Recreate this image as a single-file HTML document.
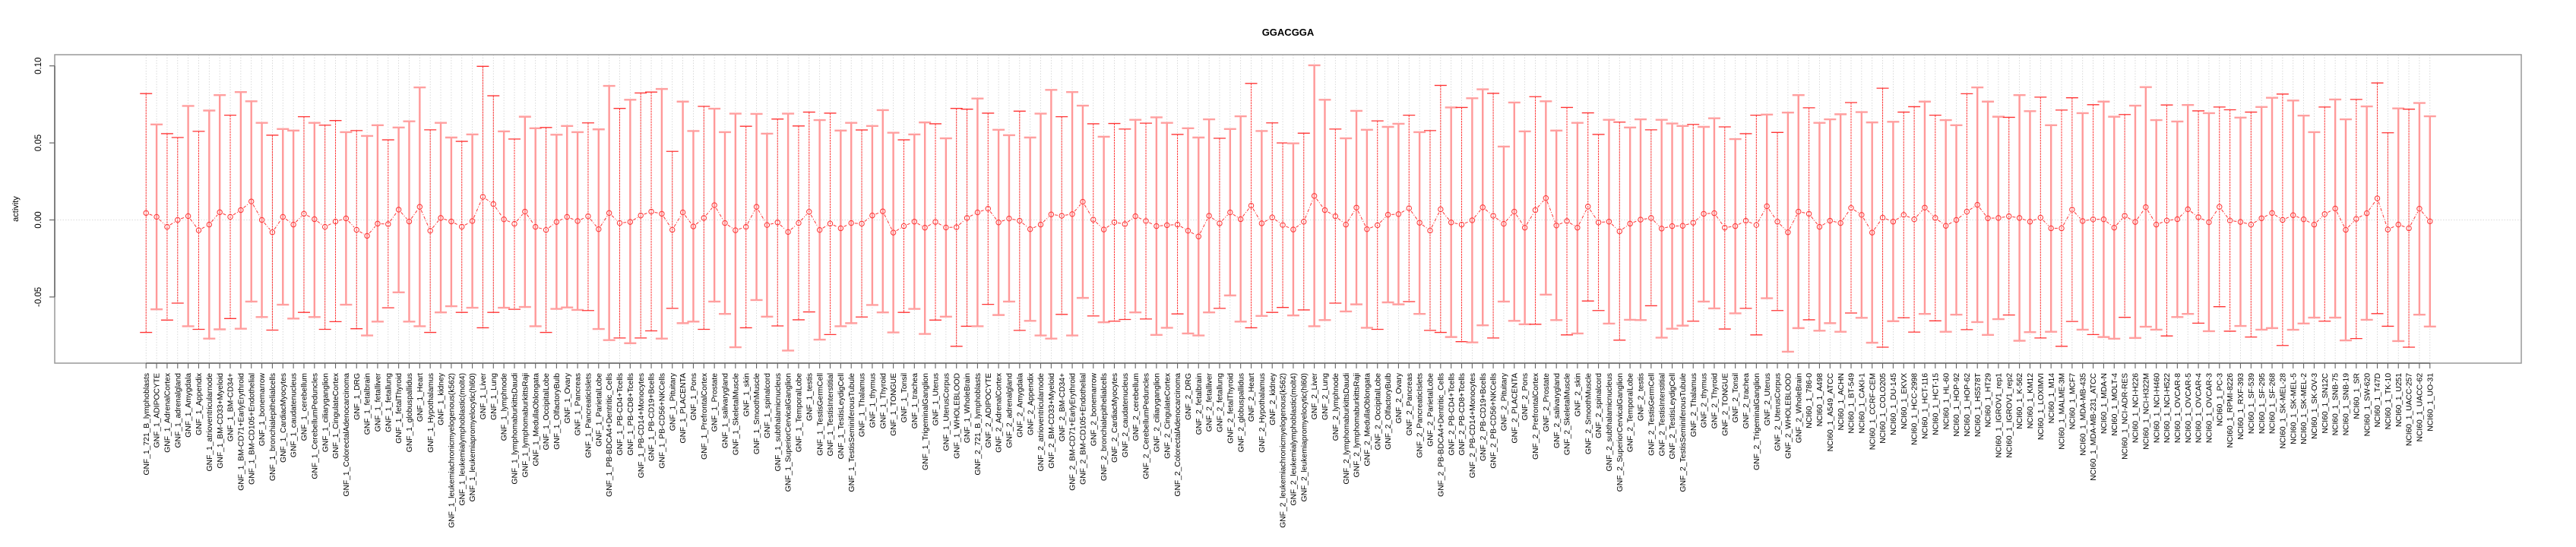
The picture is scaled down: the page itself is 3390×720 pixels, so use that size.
<!DOCTYPE html>
<html><head><meta charset="utf-8"><title>GGACGGA</title>
<style>
html,body{margin:0;padding:0;background:#fff;}
svg{display:block;font-family:"Liberation Sans",Arial,sans-serif;}
</style></head>
<body>
<svg id="chart" width="3390" height="720" viewBox="0 0 3390 720" xmlns="http://www.w3.org/2000/svg">
<text x="1695" y="47" text-anchor="middle" font-size="13" font-weight="bold">GGACGGA</text>
<text transform="translate(24,275) rotate(-90)" text-anchor="middle" font-size="11">activity</text>
<g id="grid"></g>
<g id="bars"></g>
<g id="line"></g>
<g id="axes"></g>
<g id="xlabels"></g>
</svg>
<script>
const tissues = ["721_B_lymphoblasts","ADIPOCYTE","AdrenalCortex","adrenalgland","Amygdala","Appendix","atrioventricularnode","BM-CD33+Myeloid","BM-CD34+","BM-CD71+EarlyErythroid","BM-CD105+Endothelial","bonemarrow","bronchialepithelialcells","CardiacMyocytes","caudatenucleus","cerebellum","CerebellumPeduncles","ciliaryganglion","CingulateCortex","ColorectalAdenocarcinoma","DRG","fetalbrain","fetalliver","fetallung","fetalThyroid","globuspallidus","Heart","Hypothalamus","kidney","leukemiachronicmyelogenous(k562)","leukemialymphoblastic(molt4)","leukemiapromyelocytic(hl60)","Liver","Lung","lymphnode","lymphomaburkittsDaudi","lymphomaburkittsRaji","MedullaOblongata","OccipitalLobe","OlfactoryBulb","Ovary","Pancreas","PancreaticIslets","ParietalLobe","PB-BDCA4+Dentritic_Cells","PB-CD4+Tcells","PB-CD8+Tcells","PB-CD14+Monocytes","PB-CD19+Bcells","PB-CD56+NKCells","Pituitary","PLACENTA","Pons","PrefrontalCortex","Prostate","salivarygland","SkeletalMuscle","skin","SmoothMuscle","spinalcord","subthalamicnucleus","SuperiorCervicalGanglion","TemporalLobe","testis","TestisGermCell","TestisInterstitial","TestisLeydigCell","TestisSeminiferousTubule","Thalamus","thymus","Thyroid","TONGUE","Tonsil","trachea","TrigeminalGanglion","Uterus","UterusCorpus","WHOLEBLOOD","WholeBrain"];
const nciLines = ["786-0","A498","A549_ATCC","ACHN","BT-549","CAKI-1","CCRF-CEM","COLO205","DU-145","EKVX","HCC-2998","HCT-116","HCT-15","HL-60","HOP-92","HOP-62","HS578T","HT29","IGROV1_rep1","IGROV1_rep2","K-562","KM12","LOXIMVI","M14","MALME-3M","MCF7","MDA-MB-435","MDA-MB-231_ATCC","MDA-N","MOLT-4","NCI-ADR-RES","NCI-H226","NCI-H322M","NCI-H460","NCI-H522","OVCAR-8","OVCAR-5","OVCAR-4","OVCAR-3","PC-3","RPMI-8226","RXF-393","SF-539","SF-295","SF-268","SK-MEL-28","SK-MEL-5","SK-MEL-2","SK-OV-3","SN12C","SNB-75","SNB-19","SR","SW-620","T47D","TK-10","U251","UACC-257","UACC-62","UO-31"];
const categories = tissues.map(t=>"GNF_1_"+t).concat(tissues.map(t=>"GNF_2_"+t), nciLines.map(t=>"NCI60_1_"+t));

const means = [
0.0045,0.002,-0.0045,0,0.0025,-0.0067,-0.003,0.005,0.002,0.0064,
0.012,0,-0.008,0.002,-0.003,0.004,0.0005,-0.0045,-0.001,0.001,
-0.0064,-0.0103,-0.0024,-0.0027,0.0067,-0.001,0.0085,-0.007,0.0013,-0.001,
-0.0044,-0.0007,0.015,0.0103,0.0004,-0.0025,0.0054,-0.0045,-0.0065,-0.0013,
0.002,-0.0007,0.0024,-0.006,0.0045,-0.002,-0.0013,0.0029,0.0054,0.004,
-0.0064,0.0049,-0.0042,0.0013,0.0096,-0.002,-0.0067,-0.0045,0.0085,-0.0033,
-0.0016,-0.0078,-0.002,0.0053,-0.0065,-0.0024,-0.0054,-0.002,-0.0024,0.0029,
0.0056,-0.0082,-0.004,-0.0011,-0.005,-0.0013,-0.0049,-0.0047,0.0013,
0.0049,0.0073,-0.0016,0.0009,-0.0005,-0.006,-0.003,0.0036,0.0027,0.0038,
0.0118,0.0002,-0.0062,-0.0015,-0.0027,0.0024,-0.0007,-0.004,-0.0034,-0.003,
-0.007,-0.0107,0.0027,-0.0022,0.0049,0.0005,0.0093,-0.0022,0.0016,-0.0033,
-0.0062,-0.0011,0.0156,0.0064,0.0024,-0.003,0.008,-0.006,-0.0034,0.0034,
0.0038,0.0076,-0.0018,-0.0069,0.0069,-0.0016,-0.003,-0.0002,0.0082,0.0027,
-0.0025,0.0054,-0.005,0.0064,0.0142,-0.0036,-0.0007,-0.005,0.0087,-0.0016,
-0.0011,-0.0074,-0.0024,0.0002,0.0013,-0.0056,-0.004,-0.0038,-0.0018,0.004,
0.0044,-0.005,-0.004,-0.0005,-0.0033,0.0089,-0.0011,-0.008,0.0054,
0.004,-0.0045,-0.0005,-0.002,0.0078,0.0033,-0.0082,0.0015,-0.0011,0.0033,
0.0004,0.008,0.0013,-0.0038,0,0.0054,0.0098,0.0011,0.0013,0.0024,
0.0013,-0.0011,0.0015,-0.0054,-0.0054,0.0067,-0.0007,0.0004,0.0004,-0.005,
0.0027,-0.0013,0.0083,-0.003,-0.0004,0.0005,0.0069,0.0018,-0.0015,0.0085,
-0.0004,-0.0013,-0.003,0.0011,0.0045,0,0.0031,0.0004,-0.003,0.0038,
0.0074,-0.0064,0.0007,0.0044,0.014,-0.0062,-0.003,-0.0054,0.0073,-0.0009];

const uppers = [
0.082,0.062,0.056,0.0535,0.074,0.0575,0.071,0.081,0.068,0.083,
0.077,0.063,0.055,0.059,0.058,0.067,0.063,0.0615,0.0645,0.057,
0.058,0.0545,0.0615,0.052,0.060,0.064,0.086,0.0585,0.063,0.0535,
0.051,0.0555,0.0997,0.0806,0.0575,0.0525,0.067,0.0595,0.060,0.0553,
0.061,0.057,0.063,0.0588,0.087,0.0724,0.078,0.0824,0.083,0.085,
0.0445,0.0768,0.0577,0.0737,0.0722,0.057,0.069,0.0608,0.0688,0.056,
0.0655,0.069,0.061,0.070,0.0648,0.0693,0.058,0.063,0.0584,0.061,
0.0713,0.0566,0.052,0.0555,0.0633,0.0624,0.053,0.0724,0.0719,
0.0788,0.0693,0.0585,0.055,0.0706,0.0535,0.069,0.0844,0.067,0.083,
0.0742,0.0624,0.054,0.0626,0.059,0.065,0.0628,0.0666,0.063,0.0555,
0.0595,0.0535,0.0653,0.053,0.059,0.0673,0.0886,0.0577,0.063,0.050,
0.0497,0.0563,0.1004,0.078,0.059,0.053,0.0708,0.0585,0.0643,0.0604,
0.0624,0.068,0.057,0.058,0.0873,0.073,0.073,0.079,0.0848,0.0822,
0.0476,0.0762,0.0575,0.080,0.077,0.058,0.073,0.063,0.0695,0.0555,
0.065,0.0635,0.060,0.0653,0.0585,0.065,0.0626,0.061,0.062,0.0604,
0.066,0.0604,0.0525,0.056,0.068,0.0684,0.0568,0.0697,0.081,
0.0728,0.063,0.0653,0.0686,0.0762,0.070,0.0633,0.0855,0.0637,0.070,
0.0735,0.0768,0.068,0.0648,0.0615,0.0819,0.086,0.0768,0.067,0.0666,
0.081,0.0706,0.0797,0.0615,0.0713,0.0793,0.0693,0.0748,0.0768,0.067,
0.0684,0.0742,0.0862,0.0648,0.0746,0.0639,0.0746,0.0708,0.0693,0.0733,
0.0715,0.0664,0.070,0.0733,0.0793,0.0817,0.0775,0.0677,0.057,0.0733,
0.0782,0.0653,0.0782,0.0737,0.0889,0.0566,0.0724,0.0719,0.0759,0.0673];

const lowers = [
-0.073,-0.058,-0.065,-0.054,-0.069,-0.071,-0.077,-0.071,-0.064,-0.0706,
-0.053,-0.063,-0.0715,-0.055,-0.064,-0.060,-0.063,-0.071,-0.066,-0.055,
-0.0706,-0.075,-0.066,-0.057,-0.047,-0.066,-0.069,-0.073,-0.060,-0.056,
-0.060,-0.057,-0.070,-0.060,-0.057,-0.058,-0.0565,-0.069,-0.073,-0.0577,
-0.0568,-0.0584,-0.0588,-0.0708,-0.078,-0.0766,-0.080,-0.0766,-0.072,-0.077,
-0.0574,-0.067,-0.066,-0.071,-0.053,-0.061,-0.0826,-0.070,-0.052,-0.0628,
-0.0688,-0.0848,-0.0648,-0.0597,-0.0777,-0.0744,-0.069,-0.067,-0.063,-0.0552,
-0.060,-0.073,-0.060,-0.0577,-0.074,-0.065,-0.0628,-0.082,-0.069,
-0.069,-0.0548,-0.0617,-0.053,-0.0717,-0.0655,-0.075,-0.077,-0.0613,-0.075,
-0.0506,-0.0623,-0.0664,-0.0657,-0.0646,-0.060,-0.0643,-0.0746,-0.070,-0.061,
-0.0737,-0.075,-0.060,-0.0574,-0.049,-0.066,-0.070,-0.0623,-0.060,-0.0568,
-0.062,-0.0584,-0.069,-0.065,-0.054,-0.0594,-0.0548,-0.070,-0.071,-0.0535,
-0.0548,-0.053,-0.061,-0.0717,-0.073,-0.076,-0.079,-0.0795,-0.0684,-0.0766,
-0.053,-0.0655,-0.0677,-0.0677,-0.0485,-0.065,-0.0746,-0.0737,-0.0526,-0.0588,
-0.0673,-0.078,-0.0648,-0.065,-0.0557,-0.0764,-0.0706,-0.0686,-0.0657,-0.053,
-0.0574,-0.0708,-0.0606,-0.0574,-0.0746,-0.0508,-0.0588,-0.0855,-0.0702,
-0.0648,-0.0719,-0.067,-0.0726,-0.0604,-0.0635,-0.0797,-0.0826,-0.0657,-0.0635,
-0.0728,-0.061,-0.0655,-0.0726,-0.0615,-0.0712,-0.0663,-0.0746,-0.0644,-0.0617,
-0.0784,-0.0728,-0.0766,-0.0726,-0.082,-0.0659,-0.0712,-0.0744,-0.076,-0.0771,
-0.0632,-0.0766,-0.0693,-0.0712,-0.0753,-0.063,-0.061,-0.067,-0.0722,-0.0563,
-0.0722,-0.0688,-0.076,-0.0712,-0.0702,-0.0815,-0.0713,-0.0672,-0.0634,-0.0657,
-0.0634,-0.0782,-0.077,-0.0648,-0.0608,-0.069,-0.0786,-0.0826,-0.0615,-0.0692];

const yTicks = [0.10, 0.05, 0.00, -0.05];
const yTickLabels = ["0.10", "0.05", "0.00", "-0.05"];

const NS = "http://www.w3.org/2000/svg";
const PL = 72, PR = 3318, PT = 72, PB = 478;
const n = categories.length;
const step = (PR - PL) / ((n - 1) * 1.08);
const x0 = PL + (n - 1) * 0.04 * step;
function xScale(i){ return x0 + i * step; }
function yScale(v){ return 289.5 - v * 2028; }
function mk(tag, attrs, parent){
  const e = document.createElementNS(NS, tag);
  for (const k in attrs) e.setAttribute(k, attrs[k]);
  parent.appendChild(e);
  return e;
}
const grid = document.getElementById('grid');
const bars = document.getElementById('bars');
const line = document.getElementById('line');
const axes = document.getElementById('axes');
const xl = document.getElementById('xlabels');

// grid
for (let i = 0; i < n; i++) {
  const g = mk('line', {x1:xScale(i), x2:xScale(i), y1:PT, y2:PB, stroke:'#d0d0d0', 'stroke-width':0.8, 'stroke-dasharray':'1.5,2'}, grid);
  
  
}
const zl = mk('line', {x1:PL, x2:PR, y1:yScale(0), y2:yScale(0), stroke:'#cfcfcf', 'stroke-width':0.8, 'stroke-dasharray':'1.5,2'}, grid);



// error bars
for (let i = 0; i < n; i++) {
  const x = xScale(i), yu = yScale(uppers[i]), yl = yScale(lowers[i]);
  const thick = ((i * 7 + 3) % 5) < 2 || (i % 3 === 1);
  const g = mk('g', {}, bars);
  
  
  if (thick) {
    mk('line', {x1:x, x2:x, y1:yu, y2:yl, stroke:'#ff9999', 'stroke-width':2.4}, g);
    mk('line', {x1:x-8, x2:x+8, y1:yu, y2:yu, stroke:'#ff9f9f', 'stroke-width':2.4}, g);
    mk('line', {x1:x-8, x2:x+8, y1:yl, y2:yl, stroke:'#ff9f9f', 'stroke-width':2.4}, g);
  } else {
    mk('line', {x1:x, x2:x, y1:yu, y2:yl, stroke:'#ff3333', 'stroke-width':1, 'stroke-dasharray':'2.5,1'}, g);
    mk('line', {x1:x-8, x2:x+8, y1:yu, y2:yu, stroke:'#ff3333', 'stroke-width':1.3}, g);
    mk('line', {x1:x-8, x2:x+8, y1:yl, y2:yl, stroke:'#ff3333', 'stroke-width':1.3}, g);
  }
}

// mean line with gaps
const r = 3.2;
for (let i = 0; i < n - 1; i++) {
  const xa = xScale(i), ya = yScale(means[i]), xb = xScale(i+1), yb = yScale(means[i+1]);
  const dx = xb - xa, dy = yb - ya, d = Math.hypot(dx, dy), g = r + 1.5;
  if (d <= 2 * g) continue;
  const s = mk('line', {x1:xa + dx*g/d, y1:ya + dy*g/d, x2:xb - dx*g/d, y2:yb - dy*g/d, stroke:'#ff3333', 'stroke-width':1, 'stroke-dasharray':'4,2,1,2'}, line);
  
  
}
for (let i = 0; i < n; i++) {
  const c = mk('circle', {cx:xScale(i), cy:yScale(means[i]), r:r, fill:'none', stroke:'#ff3333', 'stroke-width':1}, line);
  
  
}

// frame and axes
const fr = mk('rect', {x:PL, y:PT, width:PR-PL, height:PB-PT, fill:'none', stroke:'#999', 'stroke-width':1.5}, axes);


const ya = mk('line', {x1:PL, x2:PL, y1:yScale(yTicks[0]), y2:yScale(yTicks[yTicks.length-1]), stroke:'#666', 'stroke-width':1.5}, axes);


for (let k = 0; k < yTicks.length; k++) {
  const y = yScale(yTicks[k]);
  mk('line', {x1:PL-7, x2:PL, y1:y, y2:y, stroke:'#666', 'stroke-width':1.2}, axes);
  const t = mk('text', {transform:'translate(54,'+y+') rotate(-90)', 'text-anchor':'middle', 'font-size':11.5, fill:'#000'}, axes);
  t.textContent = yTickLabels[k];
  
  
}
const xa = mk('line', {x1:xScale(0), x2:xScale(n-1), y1:PB, y2:PB, stroke:'#666', 'stroke-width':1.5}, axes);


for (let i = 0; i < n; i++) {
  const x = xScale(i);
  mk('line', {x1:x, x2:x, y1:PB, y2:PB+7, stroke:'#666', 'stroke-width':1.1}, axes);
  const t = mk('text', {transform:'translate('+(x+3.6)+','+(PB+13)+') rotate(-90)', 'text-anchor':'end', 'font-size':10.3, fill:'#000'}, xl);
  t.textContent = categories[i];
  
  
}
</script>
</body></html>
